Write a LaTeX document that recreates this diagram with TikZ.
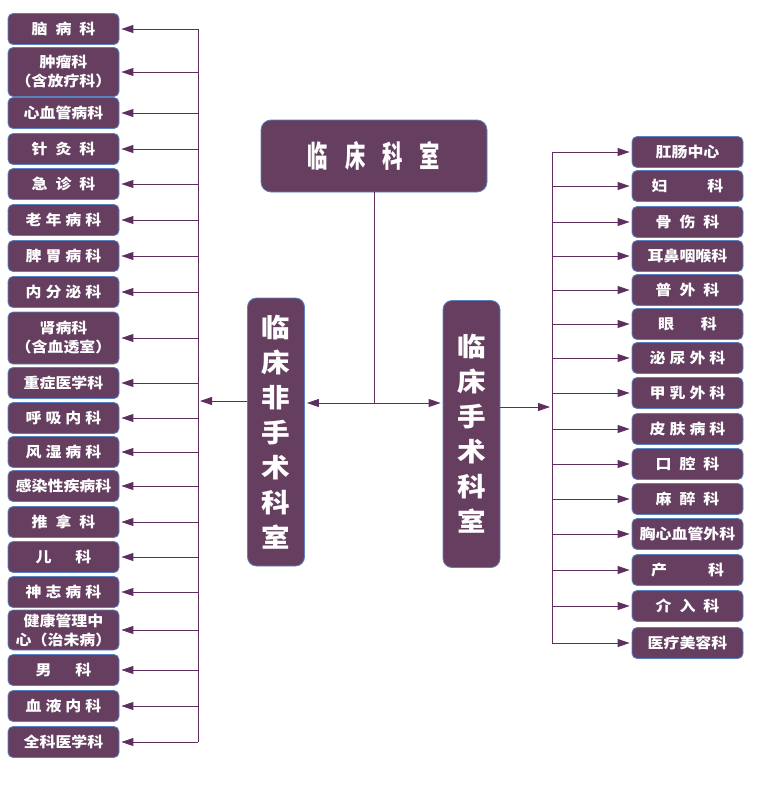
\documentclass[tikz,border=0pt]{standalone}
\usepackage{fontspec}
\setmainfont{Noto Sans CJK SC}
\newfontfamily\cjkwide{Noto Sans CJK SC}[FakeStretch=1.1]
\newfontfamily\cjknarrow{Noto Sans CJK SC}[FakeStretch=0.68]
\usetikzlibrary{arrows.meta}
\definecolor{deptfill}{HTML}{653E60}
\definecolor{deptedge}{HTML}{5B82C0}
\definecolor{linkline}{HTML}{5E2F5E}
\newcommand\jg[1][4pt]{\hspace{#1}}
\tikzset{
	dept/.style={draw=deptedge, fill=deptfill, line width=0.8pt, rounded corners=5pt, text=white, minimum width=111pt, inner sep=0pt, align=center, font=\cjkwide\bfseries\fontsize{14.5}{19}\selectfont},
	big/.style={dept, minimum width=57pt, rounded corners=9pt, font=\cjkwide\bfseries\fontsize{26}{35}\selectfont},
	link/.style={draw=linkline, line width=0.9pt},
	arr/.style={link, -{Triangle[length=12pt,width=8pt]}, shorten >=2pt}
}
\begin{document}
\begin{tikzpicture}[x=1pt, y=-1pt]
	\useasboundingbox (0,0) rectangle (778,800);
	\node[dept, minimum width=226pt, minimum height=72pt, rounded corners=10pt, font=\cjknarrow\bfseries\fontsize{30}{30}\selectfont] (top) at (374,156) {临\jg[17pt]床\jg[17pt]科\jg[17pt]室};
	\node[big, minimum height=268pt] (nonsurg) at (276,432) {临\\床\\非\\手\\术\\科\\室};
	\node[big, minimum height=267pt] (surg) at (471.5,434) {临\\床\\手\\术\\科\\室};
	\foreach \y/\h/\t [count=\i] in {
		29/31/{脑\jg[8pt]病\jg[8pt]科},
		72/49/{肿瘤科\\（含放疗科）},
		113/31/心血管病科,
		149/31/{针\jg[8pt]灸\jg[8pt]科},
		184/31/{急\jg[8pt]诊\jg[8pt]科},
		220/31/{老\jg 年\jg 病\jg 科},
		256/31/{脾\jg 胃\jg 病\jg 科},
		292/31/{内\jg 分\jg 泌\jg 科},
		338/52/{肾病科\\（含血透室）},
		383/31/重症医学科,
		418/31/{呼\jg 吸\jg 内\jg 科},
		452/31/{风\jg 湿\jg 病\jg 科},
		486/31/感染性疾病科,
		522/31/{推\jg[8pt]拿\jg[8pt]科},
		557/31/{儿\jg[24pt]科},
		592/31/{神\jg 志\jg 病\jg 科},
		630/40/{健康管理中\\心（治未病）},
		670/31/{男\jg[24pt]科},
		706/31/{血\jg 液\jg 内\jg 科},
		742/31/全科医学科}
		\node[dept, minimum height=\h pt] (l\i) at (63.5,\y) {\t};
	\foreach \y/\h/\t [count=\i] in {
		152/31/肛肠中心,
		186/31/{妇\jg[40pt]科},
		222/31/{骨\jg[8pt]伤\jg[8pt]科},
		256/31/耳鼻咽喉科,
		290/31/{普\jg[8pt]外\jg[8pt]科},
		324/31/{眼\jg[27pt]科},
		358/31/{泌\jg 尿\jg 外\jg 科},
		393/31/{甲\jg 乳\jg 外\jg 科},
		429/31/{皮\jg 肤\jg 病\jg 科},
		464/31/{口\jg[8pt]腔\jg[8pt]科},
		499/31/{麻\jg[8pt]醉\jg[8pt]科},
		534/31/胸心血管外科,
		570/31/{产\jg[41pt]科},
		606/31/{介\jg[8pt]入\jg[8pt]科},
		643/31/医疗美容科}
		\node[dept, minimum height=\h pt] (r\i) at (687.5,\y) {\t};
	\coordinate (lbus) at (198,0);
	\coordinate (rbus) at (552,0);
	\coordinate (jn) at (374,403);
	\coordinate (nsout) at ([yshift=31pt]nonsurg.west);
	\coordinate (sout) at ([yshift=27pt]surg.east);
	\draw[link] (top) -- (jn);
	\draw[arr] (jn) -- (jn -| nonsurg.east);
	\draw[arr] (jn) -- (jn -| surg.west);
	\draw[arr] (nsout) -- (nsout -| lbus);
	\draw[arr] (sout) -- (sout -| rbus);
	\draw[link] (lbus |- l1) -- (lbus |- l20);
	\foreach \i in {1,...,20}
		\draw[arr] (lbus |- l\i) -- (l\i.east);
	\draw[link] (rbus |- r1) -- (rbus |- r15);
	\foreach \i in {1,...,15}
		\draw[arr] (rbus |- r\i) -- (r\i.west);
\end{tikzpicture}
\end{document}
